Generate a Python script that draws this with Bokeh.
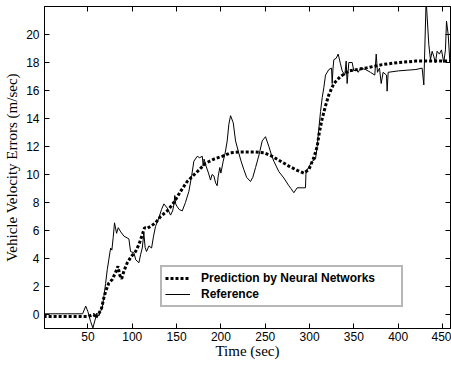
from bokeh.plotting import figure
from bokeh.models import LinearAxis, Legend, LegendItem, FixedTicker, Range1d
from bokeh.embed import file_html
from bokeh.resources import INLINE

# ---- data ----
ref_t = [0, 44, 47.5, 50, 53, 55.6, 58, 60, 62.4, 64, 66.2, 68, 69.9, 71.8, 73.5, 75.6, 77, 78.5, 80,
         82.3, 84.2, 87, 90.6, 96.2, 98.1, 101.9, 104, 107.5, 109.5, 111.3, 113.1, 114.5, 116.1, 118.8,
         121.8, 124, 126.3, 130, 133, 135.7, 139.5, 143.2, 145.5, 147, 148, 149, 150.7, 153, 156.4, 160,
         163.9, 167, 169.5, 173.3, 176, 179, 180, 181, 182.7, 186, 188.3, 190, 192.1, 194, 195.8, 197,
         198.8, 200, 202.6, 205, 207.1, 209, 210.9, 213.9, 216.5, 220.3, 223, 225.9, 229, 233.4, 236,
         239.1, 243, 246.6, 250.3, 254.1, 257, 259.7, 265.4, 271, 276.6, 279, 282.3, 286, 291.7, 295.4,
         296, 303, 306.7, 308.6, 310.5, 312.4, 314.3, 316.1, 318, 321.8, 324.8, 325.5, 326.5, 327.4, 330,
         332.3, 334.9, 336.8, 339.8, 341.3, 342.4, 344.3, 348.1, 349.9, 352.6, 354.9, 357.5, 363.1, 368.7,
         373.6, 375.2, 376.6, 378.9, 380.8, 383, 386.8, 387.5, 388.7, 400, 410, 420, 427, 428.9, 431.5,
         434.5, 436.4, 438.3, 440.1, 442, 443.9, 446.5, 448.8, 451.4, 453.3, 454.5, 456.4, 458.2, 459]
ref_v = [0.05, 0.05, 0.6, 0.2, -0.5, -0.96, -0.4, 0.1, -0.1, 0.2, 0.47, 1.3, 2.2, 3.2, 3.9, 4.75, 4.6, 5.5, 6.55,
         5.8, 6.2, 5.9, 5.6, 5.4, 4.5, 4.4, 3.9, 3.7, 4.3, 4.75, 5.8, 4.8, 4.5, 4.9,
         4.75, 5.6, 6.3, 6.9, 7.5, 7.9, 7.6, 7.1, 7.4, 7.85, 8.5, 7.9, 7.7, 7.5, 7.4, 8.0,
         8.8, 9.9, 10.95, 11.3, 11.2, 11.3, 10.6, 11.1, 10.7, 10.1, 9.6, 10.0, 9.9, 9.4, 9.2, 9.9,
         10.5, 10.1, 10.95, 11.6, 12.4, 13.6, 14.2, 13.7, 12.4, 11.5, 10.9, 10.35, 9.8, 9.5, 9.8,
         10.5, 11.4, 12.4, 12.7, 12.0, 11.4, 10.95, 10.2, 9.75, 9.2, 9.0, 8.7, 9.05, 9.05, 9.05,
         10.2, 10.95, 11.1, 12.0, 13.3, 14.5, 15.5, 16.2, 17.1, 17.5, 17.6, 16.5, 17.6, 18.2, 18.3,
         18.6, 17.9, 17.4, 17.1, 18.1, 16.5, 18.0, 18.0, 17.4, 17.5, 17.3, 17.6, 17.5, 17.3,
         17.1, 18.6, 17.3, 17.6, 16.5, 17.3, 17.1, 15.95, 17.3, 17.4, 17.45, 17.5, 17.6, 16.4, 22.5,
         19.3, 18.2, 18.8, 18.45, 18.0, 18.8, 18.6, 18.9, 18.0, 18.9, 20.95, 20.0, 18.1, 18.0]

pred_t = [0, 50, 54, 56.7, 59, 61, 62.4, 65, 68, 70, 73.6, 77.4, 81.2, 83.8, 86, 88, 90.6, 94.4, 98.9,
          103.7, 107.5, 111.3, 113.9, 116.9, 120.7, 126.3, 131.9, 139.5, 147, 154.5, 162, 173.3, 182.7,
          192.1, 201.5, 210.9, 220.3, 229.7, 239.1, 248.5, 257.9, 267.3, 276.6, 286, 293.5, 299.2, 304.8,
          308.6, 311, 314.3, 318, 321.8, 327.4, 334.9, 344.3, 363.1, 382, 400.7, 419.5, 438.3, 459]
pred_v = [-0.15, -0.15, -0.05, 0.0, -0.25, 0.05, 0.1, 0.35, 1.2, 1.65, 2.25, 2.5, 3.0, 3.45, 2.8, 2.55, 3.1, 3.7, 4.15,
          4.5, 5.0, 5.7, 6.2, 6.15, 6.3, 6.55, 7.0, 7.4, 8.0, 8.8, 9.5, 10.2, 10.8,
          11.1, 11.3, 11.55, 11.6, 11.6, 11.6, 11.55, 11.3, 10.95, 10.6, 10.3, 10.1, 10.35, 11.2,
          12.0, 13.0, 14.0, 14.9, 15.7, 16.5, 17.0, 17.4, 17.6, 17.85, 18.0, 18.1, 18.1, 18.1]

x_ticks = [50, 100, 150, 200, 250, 300, 350, 400, 450]
y_ticks = [0, 2, 4, 6, 8, 10, 12, 14, 16, 18, 20]
labels = ["Prediction by Neural Networks", "Reference"]

TICK_FONT = "Liberation Sans"
LABEL_FONT = "Liberation Serif"

p = figure(width=451, height=369, output_backend="svg", toolbar_location=None,
           x_range=Range1d(1, 459), y_range=Range1d(-1, 22),
           min_border_left=44, min_border_right=1, min_border_top=6, min_border_bottom=41,
           x_axis_label="Time (sec)", y_axis_label="Vehicle Velocity Errors (m/sec)")
p.background_fill_color = "white"
p.border_fill_color = "white"
p.outline_line_color = "black"
p.outline_line_width = 1
p.xgrid.visible = False
p.ygrid.visible = False

r_pred = p.line(pred_t, pred_v, line_color="black", line_width=3, line_dash="3 2")
r_ref = p.line(ref_t, ref_v, line_color="black", line_width=1)

def style_axis(ax, ticks, show_labels=True):
    ax.ticker = FixedTicker(ticks=ticks)
    ax.major_tick_in = 5
    ax.major_tick_out = 0
    ax.minor_tick_line_color = None
    ax.major_tick_line_color = "black"
    ax.axis_line_color = "black"
    if show_labels:
        ax.major_label_text_font = TICK_FONT
        ax.major_label_text_font_size = "12px"
        ax.major_label_text_color = "black"
        ax.axis_label_text_font = LABEL_FONT
        ax.axis_label_text_font_size = "15px"
        ax.axis_label_text_font_style = "normal"
        ax.axis_label_text_color = "black"
    else:
        ax.major_label_text_font_size = "0px"
        ax.major_label_text_color = None
        ax.major_label_standoff = 0

style_axis(p.xaxis[0], x_ticks)
style_axis(p.yaxis[0], y_ticks)
p.xaxis[0].major_label_standoff = 3
p.xaxis[0].axis_label_standoff = -1
p.yaxis[0].major_label_standoff = 5
p.yaxis[0].axis_label_standoff = 3

top = LinearAxis()
style_axis(top, x_ticks, show_labels=False)
right = LinearAxis()
style_axis(right, y_ticks, show_labels=False)
p.add_layout(top, "above")
p.add_layout(right, "right")

legend = Legend(items=[LegendItem(label=labels[0], renderers=[r_pred]),
                       LegendItem(label=labels[1], renderers=[r_ref])],
                location=(116, 21))
legend.label_text_font = TICK_FONT
legend.label_text_font_size = "12px"
legend.label_text_font_style = "bold"
legend.label_text_color = "black"
legend.glyph_width = 25
legend.glyph_height = 16
legend.label_height = 16
legend.label_standoff = 11
legend.label_width = 197
legend.padding = 3
legend.spacing = 0
legend.margin = 0
legend.border_line_color = "#707070"
legend.border_line_width = 2
legend.background_fill_color = "white"
legend.background_fill_alpha = 1
p.add_layout(legend)

open("out.html", "w").write(file_html(p, INLINE))
